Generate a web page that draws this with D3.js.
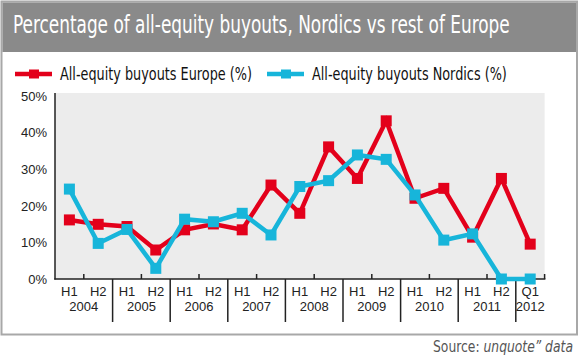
<!DOCTYPE html>
<html><head><meta charset="utf-8">
<script src="https://cdn.jsdelivr.net/npm/d3@7"></script>
<style>body{margin:0;background:#fff} svg{display:block}</style>
</head><body><svg id="c" width="580" height="358"></svg>
<script>
const periods = ["H1","H2","H1","H2","H1","H2","H1","H2","H1","H2","H1","H2","H1","H2","H1","H2","Q1"];
const periodYears = ["2004","2004","2005","2005","2006","2006","2007","2007","2008","2008","2009","2009","2010","2010","2011","2011","2012"];
const europe = [16.1,14.9,14.3,7.9,13.4,15.0,13.4,25.6,17.9,36.0,27.4,43.1,22.0,24.7,11.4,27.4,9.5];
const nordics = [24.5,9.7,13.5,2.9,16.3,15.6,17.9,12.0,25.2,26.8,33.8,32.6,22.9,10.6,12.3,0,0];
const yTicks = [0,10,20,30,40,50];
const seriesNames = ["All-equity buyouts Europe (%)","All-equity buyouts Nordics (%)"];
const colors = ["#e3001b","#17b5da"];
const titleText = "Percentage of all-equity buyouts, Nordics vs rest of Europe";

const svg = d3.select("#c");
const condensed = "'DejaVu Sans Condensed','DejaVu Sans',sans-serif";
const axisFont = "'Liberation Sans',Arial,sans-serif";

// squeeze a text horizontally to a target width, anchored at a point
function fitText(sel, ax, targetW, anchor){
  const w = sel.node().getComputedTextLength();
  const s = targetW / w;
  const left = anchor === "end" ? ax - targetW : ax;
  sel.attr("x",0).attr("text-anchor","start")
     .attr("transform",`translate(${left},0) scale(${s},1)`);
}

// frame + title bar
svg.append("rect").attr("x",1.5).attr("y",1.5).attr("width",575.5).attr("height",333)
  .attr("fill","#fff").attr("stroke","#a8a8a8").attr("stroke-width",2);
svg.append("rect").attr("x",2.5).attr("y",2.5).attr("width",573.5).attr("height",49.5).attr("fill","#8a8a8a");
const title = svg.append("text").attr("y",33.5).attr("fill","#fff")
  .style("font-family",condensed).style("font-stretch","condensed").style("font-size","24px").text(titleText);
fitText(title,13,497,"start");

const x = d3.scaleBand().domain(d3.range(periods.length)).range([55,544.6]).padding(0);
const y = d3.scaleLinear().domain([0,50]).range([279,95.5]);
const bw = x.bandwidth();

// plot background
svg.append("rect").attr("x",55).attr("y",93).attr("width",544.6-55).attr("height",279-93).attr("fill","#ececec");

// y axis
const ya = svg.append("g").attr("transform","translate(49,0)")
  .call(d3.axisLeft(y).tickValues(yTicks).tickSize(0).tickFormat(d=>d+"%"));
ya.select(".domain").remove();
ya.selectAll("text").attr("x",-2).attr("dy","0.36em").attr("fill","#222")
  .style("font-family",axisFont).style("font-size","13px");
svg.append("line").attr("x1",55).attr("x2",55).attr("y1",93).attr("y2",279.5)
  .attr("stroke","#222").attr("stroke-width",1.5);

// x axis
const xa = svg.append("g").attr("transform","translate(0,279)")
  .call(d3.axisBottom(x).tickSize(0).tickPadding(0).tickFormat(i=>periods[i]));
xa.select(".domain").remove();
xa.selectAll("text").attr("y",17).attr("dy",0).attr("fill","#222")
  .style("font-family",axisFont).style("font-size","13px");
svg.append("line").attr("x1",54.25).attr("x2",545.4).attr("y1",279).attr("y2",279)
  .attr("stroke","#222").attr("stroke-width",1.5);
for (let i=1;i<=periods.length;i++){
  const bx = 55 + i*bw;
  const yearBoundary = i<periods.length && periodYears[i]!==periodYears[i-1];
  svg.append("line").attr("x1",bx).attr("x2",bx)
    .attr("y1", yearBoundary ? 279 : 274)
    .attr("y2", yearBoundary ? 322 : 279)
    .attr("stroke","#222").attr("stroke-width",1.5);
}
// year labels
const years = Array.from(new Set(periodYears));
years.forEach(yr=>{
  const idx = periodYears.map((p,i)=>p===yr?i:-1).filter(i=>i>=0);
  const cx = (x(idx[0]) + x(idx[idx.length-1]) + bw)/2;
  svg.append("text").attr("x",cx).attr("y",311).attr("text-anchor","middle").attr("fill","#222")
    .style("font-family",axisFont).style("font-size","13px").text(yr);
});

// series
[europe,nordics].forEach((vals,k)=>{
  const line = d3.line().x((v,i)=>x(i)+bw/2).y(v=>y(v));
  svg.append("path").datum(vals).attr("d",line).attr("fill","none")
    .attr("stroke",colors[k]).attr("stroke-width",4.5).attr("stroke-linejoin","miter");
  svg.append("g").selectAll("rect").data(vals).join("rect")
    .attr("x",(v,i)=>x(i)+bw/2-5.5).attr("y",v=>y(v)-5.5)
    .attr("width",11).attr("height",11).attr("fill",colors[k]);
});

// legend
const legX = [15,267];
const legW = [192,195];
seriesNames.forEach((n,k)=>{
  const g = svg.append("g");
  g.append("line").attr("x1",legX[k]).attr("x2",legX[k]+37).attr("y1",74).attr("y2",74)
    .attr("stroke",colors[k]).attr("stroke-width",4.5);
  g.append("rect").attr("x",legX[k]+14).attr("y",69.5).attr("width",10).attr("height",9).attr("fill",colors[k]);
  const t = g.append("text").attr("y",80).attr("fill","#111")
    .style("font-family",condensed).style("font-stretch","condensed").style("font-size","17px").text(n);
  fitText(t,legX[k]+45,legW[k],"start");
});

// source
const src = svg.append("text").attr("y",352).attr("fill","#555")
  .style("font-family",condensed).style("font-stretch","condensed").style("font-size","15px");
src.append("tspan").text("Source: ");
src.append("tspan").style("font-style","italic").text("unquote\u201D data");
fitText(src,573,140,"end");
</script></body></html>
